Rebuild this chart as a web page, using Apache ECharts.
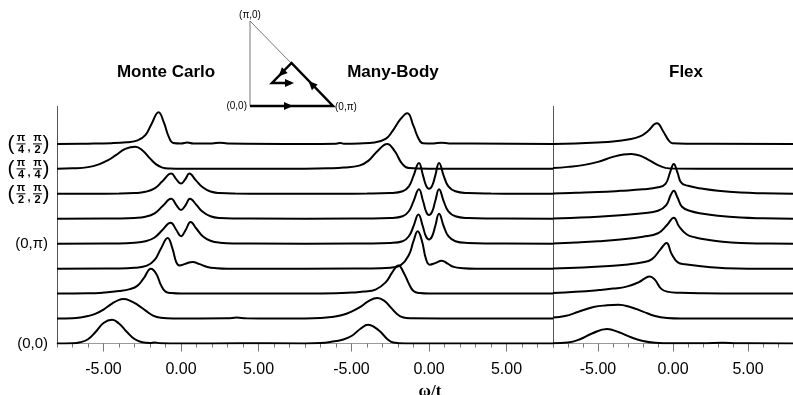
<!DOCTYPE html>
<html>
<head>
<meta charset="utf-8">
<script src="https://cdn.jsdelivr.net/npm/echarts@6/dist/echarts.min.js"></script>
<style>
html, body { margin: 0; padding: 0; background: #fff; }
#chart { width: 793px; height: 395px; }
</style>
</head>
<body>
<div id="chart"></div>
<script>
// panel titles and omega axis ticks
var panelTitles = ['Monte Carlo', 'Many-Body', 'Flex'];
var omegaTicks = [-5, 0, 5];

// spectra: [omega/t, height above baseline], bottom curve (0,0) first
var monteCarlo = [
  [[-8,0],[-7,0.01],[-6.5,0.05],[-6,0.17],[-5.5,0.47],[-5,0.82],[-4.45,0.95],[-4,0.8],[-3.5,0.47],[-3,0.18],[-2.5,0.05],[-2,0.02],[-1.7,0.04],[-1.3,0.01],[0,0],[4,0.01],[5,0.01],[8,0]],
  [[-8,0],[-7,0.01],[-6.5,0.04],[-6,0.1],[-5.5,0.2],[-5,0.36],[-4.5,0.58],[-4,0.75],[-3.7,0.78],[-3.3,0.72],[-2.8,0.55],[-2.3,0.33],[-1.8,0.12],[-1.3,0.03],[-0.5,0],[3,0.01],[3.6,0.04],[4.2,0.01],[8,0]],
  [[-8,0],[-6,0.01],[-5,0.04],[-4,0.1],[-3.3,0.18],[-2.8,0.32],[-2.4,0.62],[-1.94,1.0],[-1.6,0.8],[-1.3,0.35],[-1.0,0.08],[-0.6,0.02],[0,0],[8,0]],
  [[-8,0],[-4,0.01],[-3,0.04],[-2.2,0.12],[-1.7,0.35],[-1.3,0.8],[-0.86,1.23],[-0.55,0.8],[-0.3,0.25],[-0.1,0.13],[0.3,0.2],[0.75,0.27],[1.2,0.18],[1.7,0.07],[2.3,0.02],[3,0],[8,0]],
  [[-8,0],[-4,0.01],[-3,0.04],[-2.3,0.1],[-1.7,0.25],[-1.2,0.55],[-0.67,0.84],[-0.3,0.55],[0,0.3],[0.3,0.55],[0.62,0.87],[1.0,0.6],[1.4,0.3],[1.9,0.12],[2.5,0.04],[3.5,0.01],[8,0]],
  [[-8,0],[-4,0.01],[-3,0.03],[-2.3,0.08],[-1.7,0.22],[-1.2,0.5],[-0.63,0.8],[-0.3,0.55],[0,0.35],[0.3,0.55],[0.58,0.8],[1.0,0.55],[1.4,0.28],[1.9,0.1],[2.5,0.03],[3.5,0.01],[8,0]],
  [[-8,0],[-4,0.01],[-3,0.03],[-2.3,0.08],[-1.7,0.22],[-1.2,0.5],[-0.63,0.81],[-0.3,0.58],[0,0.41],[0.27,0.58],[0.54,0.81],[0.95,0.55],[1.4,0.26],[1.9,0.09],[2.5,0.03],[3.5,0.01],[8,0]],
  [[-8,0],[-7,0.02],[-6,0.07],[-5.3,0.18],[-4.7,0.35],[-4.2,0.55],[-3.6,0.8],[-2.95,0.89],[-2.5,0.75],[-2.0,0.42],[-1.6,0.18],[-1.2,0.05],[-0.7,0.01],[0,0],[8,0]],
  [[-8,0],[-6,0.01],[-4.5,0.03],[-3.5,0.07],[-2.8,0.14],[-2.3,0.35],[-1.9,0.8],[-1.45,1.27],[-1.1,0.85],[-0.8,0.3],[-0.5,0.04],[0,0.02],[0.4,0.06],[0.8,0.02],[2,0.02],[2.5,0.05],[3,0.02],[8,0]]
];

var manyBody = [
  [[-8,0],[-7,0.02],[-6.3,0.07],[-5.6,0.15],[-5,0.3],[-4.4,0.6],[-3.93,0.75],[-3.5,0.65],[-3.1,0.45],[-2.7,0.18],[-2.3,0.04],[-1.5,0],[8,0]],
  [[-8,0],[-7,0.02],[-6.3,0.06],[-5.6,0.14],[-5,0.28],[-4.4,0.48],[-3.9,0.7],[-3.34,0.82],[-2.9,0.72],[-2.5,0.47],[-2.1,0.2],[-1.7,0.05],[-1.2,0.01],[8,0]],
  [[-8,0],[-6,0.01],[-5,0.04],[-4.2,0.08],[-3.45,0.16],[-2.8,0.45],[-2.37,0.85],[-1.98,1.13],[-1.6,0.8],[-1.3,0.4],[-1.0,0.1],[-0.6,0.02],[0,0],[8,0]],
  [[-8,0],[-4,0.01],[-2.5,0.04],[-1.8,0.15],[-1.3,0.55],[-1.0,1.1],[-0.73,1.5],[-0.45,1.1],[-0.2,0.4],[0.05,0.16],[0.4,0.22],[0.82,0.32],[1.2,0.2],[1.6,0.07],[2.2,0.02],[3,0],[8,0]],
  [[-8,0],[-4,0.01],[-2.5,0.03],[-1.7,0.1],[-1.3,0.3],[-1.0,0.7],[-0.68,1.17],[-0.4,0.7],[-0.2,0.3],[0,0.17],[0.2,0.3],[0.4,0.7],[0.65,1.2],[0.95,0.7],[1.25,0.3],[1.7,0.1],[2.5,0.03],[4,0.01],[8,0]],
  [[-8,0],[-4,0.01],[-2.5,0.03],[-1.7,0.1],[-1.3,0.3],[-1.0,0.7],[-0.65,1.18],[-0.38,0.7],[-0.18,0.28],[0,0.15],[0.2,0.28],[0.4,0.7],[0.65,1.18],[0.95,0.7],[1.25,0.3],[1.7,0.1],[2.5,0.03],[4,0.01],[8,0]],
  [[-8,0],[-4,0.01],[-2.5,0.03],[-1.7,0.1],[-1.3,0.3],[-1.0,0.72],[-0.65,1.24],[-0.38,0.72],[-0.18,0.32],[0,0.2],[0.2,0.32],[0.4,0.72],[0.65,1.24],[0.95,0.72],[1.25,0.3],[1.7,0.1],[2.5,0.03],[4,0.01],[8,0]],
  [[-8,0],[-6.5,0.02],[-5.5,0.05],[-4.5,0.13],[-3.9,0.33],[-3.3,0.73],[-2.7,1.0],[-2.2,0.7],[-1.75,0.22],[-1.3,0.03],[0,0],[8,0]],
  [[-8,0],[-6,0.01],[-5.7,0.04],[-5.5,0.01],[-4.5,0.02],[-3.5,0.06],[-2.8,0.2],[-2.37,0.5],[-1.83,1.0],[-1.4,1.23],[-1.0,0.72],[-0.7,0.25],[-0.4,0.03],[0.3,0.02],[0.8,0.05],[1.3,0.02],[8,0]]
];

var flex = [
  [[-8,0.01],[-7,0.04],[-6.2,0.17],[-5.4,0.4],[-4.4,0.58],[-3.6,0.45],[-2.8,0.25],[-2.0,0.1],[-1.2,0.03],[0,0.01],[2,0.01],[3.3,0.03],[4.3,0.01],[8,0]],
  [[-8,0.04],[-7.2,0.1],[-6.3,0.27],[-5.3,0.46],[-4.4,0.53],[-3.64,0.55],[-2.8,0.45],[-2.0,0.28],[-1.2,0.1],[-0.4,0.02],[0.5,0],[8,0]],
  [[-8,0.02],[-6.5,0.07],[-5,0.14],[-4,0.2],[-3.1,0.28],[-2.3,0.45],[-1.9,0.6],[-1.56,0.69],[-1.2,0.55],[-0.8,0.2],[-0.4,0.08],[0.5,0.03],[2,0.01],[8,0]],
  [[-8,0.01],[-6,0.05],[-4,0.12],[-3,0.17],[-2,0.26],[-1.4,0.38],[-0.85,0.76],[-0.43,1.03],[-0.1,0.6],[0.35,0.24],[0.8,0.18],[1.6,0.12],[2.5,0.06],[3.5,0.02],[5,0],[8,0]],
  [[-8,0.01],[-6.5,0.05],[-5,0.1],[-3.5,0.17],[-2,0.28],[-1,0.42],[-0.4,0.75],[0.05,1.04],[0.4,0.7],[0.9,0.38],[1.5,0.25],[2.3,0.16],[3.3,0.08],[4.5,0.03],[6,0.01],[8,0]],
  [[-8,0.01],[-6.5,0.04],[-5,0.08],[-3.5,0.14],[-2,0.22],[-1,0.32],[-0.45,0.55],[-0.15,0.95],[0.05,1.12],[0.3,0.85],[0.6,0.48],[1.1,0.32],[2,0.2],[3,0.12],[4.5,0.05],[6,0.02],[8,0]],
  [[-8,0.01],[-6.5,0.04],[-5,0.07],[-3.5,0.12],[-2,0.18],[-1,0.26],[-0.5,0.4],[-0.2,0.85],[0.05,1.2],[0.3,0.85],[0.55,0.45],[1.0,0.32],[2,0.2],[3,0.12],[4.5,0.05],[6,0.02],[8,0]],
  [[-8,0.03],[-7,0.08],[-6,0.15],[-5,0.28],[-4,0.48],[-3.3,0.58],[-2.78,0.6],[-2.2,0.53],[-1.6,0.35],[-1,0.15],[-0.5,0.04],[0,0.01],[8,0]],
  [[-8,0],[-6.5,0.02],[-5,0.06],[-4,0.1],[-3,0.18],[-2.2,0.3],[-1.7,0.5],[-1.07,0.83],[-0.65,0.5],[-0.3,0.15],[-0.05,0.03],[1,0.01],[8,0]]
];

// k-point labels on the left (row index from the bottom)
var rowLabels = [
  { row: 8, frac: [['π', '4'], ['π', '2']] },
  { row: 7, frac: [['π', '4'], ['π', '4']] },
  { row: 6, frac: [['π', '2'], ['π', '2']] },
  { row: 4, text: '(0,π)' },
  { row: 0, text: '(0,0)' }
];

var SANS = '"Liberation Sans", Arial, Helvetica, sans-serif';
var panels = [monteCarlo, manyBody, flex];
var grids = [], xAxes = [], yAxes = [], series = [];

panels.forEach(function (curves, p) {
  grids.push({ left: 57 + 248 * p, top: 106.5, width: 248, height: 237 });
  // integer minor ticks + labels
  xAxes.push({
    gridIndex: p, type: 'value', min: -8, max: 8, interval: 1, position: 'bottom',
    axisLine: { onZero: false, lineStyle: { color: '#9a9a9a', width: 1 } },
    axisTick: { length: 4, lineStyle: { color: '#777' } },
    axisLabel: {
      customValues: omegaTicks, margin: 18, color: '#000',
      fontFamily: SANS, fontSize: 16,
      formatter: function (v) { return v.toFixed(2); }
    },
    splitLine: { show: false }
  });
  // longer major ticks
  xAxes.push({
    gridIndex: p, type: 'value', min: -8, max: 8, interval: 1, position: 'bottom',
    axisLine: { show: false, onZero: false },
    axisTick: { customValues: omegaTicks, length: 8, lineStyle: { color: '#777' } },
    axisLabel: { show: false },
    splitLine: { show: false }
  });
  yAxes.push({
    gridIndex: p, type: 'value', min: 0, max: 9.5, position: 'left',
    axisLine: { show: p !== 1, onZero: false, lineStyle: { color: '#555', width: 1 } },
    axisTick: { show: false }, axisLabel: { show: false }, splitLine: { show: false }
  });
  curves.forEach(function (pts, k) {
    series.push({
      type: 'line', xAxisIndex: 2 * p, yAxisIndex: p,
      smooth: 0.45, symbol: 'none', silent: true,
      lineStyle: { color: '#000', width: 2 },
      data: pts.map(function (d) { return [d[0], k + d[1]]; })
    });
  });
});

var chart = echarts.init(document.getElementById('chart'));
chart.setOption({
  animation: false,
  backgroundColor: '#fff',
  grid: grids, xAxis: xAxes, yAxis: yAxes, series: series
});

function txt(s, x, y, font, align) {
  return {
    type: 'text', x: x, y: y, silent: true,
    style: {
      text: s, font: font, fill: '#000',
      align: align || 'center', verticalAlign: 'middle',
      textAlign: align || 'center', textVerticalAlign: 'middle'
    }
  };
}
function seg(x1, y1, x2, y2, w, c) {
  return { type: 'line', silent: true, shape: { x1: x1, y1: y1, x2: x2, y2: y2 }, style: { stroke: c || '#000', lineWidth: w } };
}
function arrow(cx, cy, dx, dy) {
  var n = Math.sqrt(dx * dx + dy * dy); dx /= n; dy /= n;
  var px = -dy, py = dx;
  return {
    type: 'polygon', silent: true,
    shape: { points: [[cx + 5 * dx, cy + 5 * dy], [cx - 4 * dx + 4 * px, cy - 4 * dy + 4 * py], [cx - 4 * dx - 4 * px, cy - 4 * dy - 4 * py]] },
    style: { fill: '#000' }
  };
}

var g = [];
// panel titles
var titleX = [166, 393, 686];
panelTitles.forEach(function (t, i) { g.push(txt(t, titleX[i], 72, 'bold 17px ' + SANS)); });
// x-axis name
g.push(txt('ω/t', 430, 392, 'bold 17px "Liberation Serif", "Times New Roman", serif'));

// row labels
rowLabels.forEach(function (r) {
  var cy = chart.convertToPixel({ gridIndex: 0 }, [-8, r.row])[1];
  if (r.text) {
    g.push(txt(r.text, 48, cy, '15px ' + SANS, 'right'));
    return;
  }
  var f = 'bold 11px ' + SANS;
  g.push(txt('(', 11, cy, '21px ' + SANS));
  [[r.frac[0], 21], [r.frac[1], 37.5]].forEach(function (fr) {
    g.push(txt(fr[0][0], fr[1], cy - 6, f));
    g.push(seg(fr[1] - 4.5, cy, fr[1] + 4.5, cy, 1));
    g.push(txt(fr[0][1], fr[1], cy + 6.5, f));
  });
  g.push(txt(',', 29, cy + 4, f));
  g.push(txt(')', 46, cy, '21px ' + SANS));
});

// Brillouin-zone path inset
g.push(seg(250, 21, 250, 106, 1, '#777'));
g.push(seg(250, 21, 333, 106, 1, '#777'));
g.push({
  type: 'polyline', silent: true,
  shape: { points: [[250, 106], [333, 106], [291.5, 63], [272, 83], [291, 83]] },
  style: { stroke: '#000', lineWidth: 2.5, fill: null }
});
g.push(arrow(288, 106, 1, 0));
g.push(arrow(312, 84.5, -41.5, -43));
g.push(arrow(282, 73, -19.5, 20));
g.push(arrow(289, 83, 1, 0));
g.push(txt('(π,0)', 250, 15, '10px ' + SANS));
g.push(txt('(0,0)', 247, 106, '10px ' + SANS, 'right'));
g.push(txt('(0,π)', 335, 107, '10px ' + SANS, 'left'));

chart.setOption({ graphic: { elements: g } });
</script>
</body>
</html>
